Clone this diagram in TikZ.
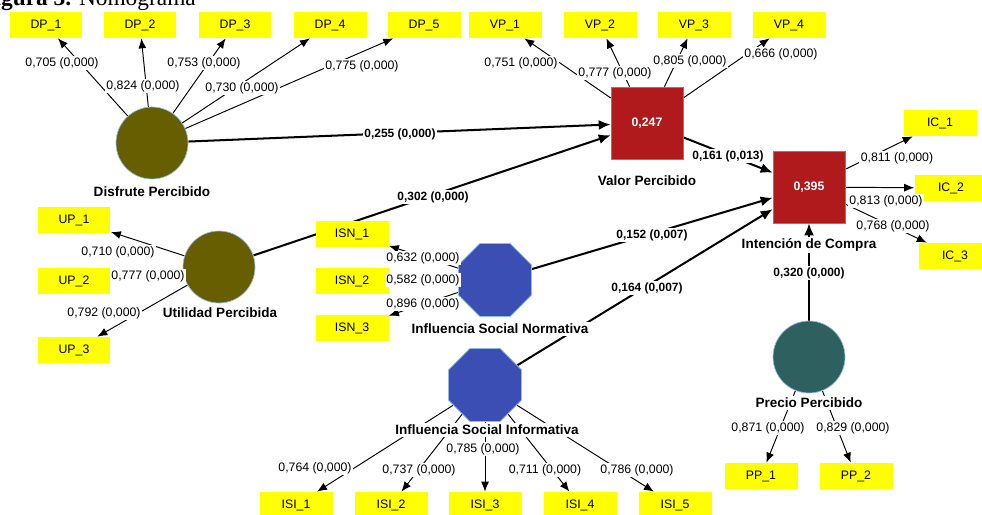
\documentclass[tikz,border=0pt]{standalone}
\usepackage{fontspec}
\setmainfont{Liberation Serif}
\setsansfont{Liberation Sans}
\usetikzlibrary{arrows.meta,shapes.geometric}
\definecolor{indyellow}{RGB}{255,255,0}
\definecolor{olive}{RGB}{102,94,0}
\definecolor{teal}{RGB}{47,96,96}
\definecolor{endored}{RGB}{176,26,28}
\definecolor{endoline}{RGB}{120,120,200}
\definecolor{octblue}{RGB}{58,78,180}
\definecolor{lvline}{RGB}{140,190,225}
\pgfdeclarelayer{edges}
\pgfsetlayers{edges,main}

\begin{document}
\begin{tikzpicture}[x=0.02cm,y=-0.02cm]
			\tikzstyle{every node}+=[font=\sffamily]
			\tikzstyle{ind}=[fill=indyellow, minimum width=1.46cm, minimum height=0.52cm, inner sep=0pt, font=\sffamily\fontsize{7}{8}\selectfont]
			\tikzstyle{lv}=[circle, draw=lvline, line width=0.4pt, minimum size=1.44cm, inner sep=0pt]
			\tikzstyle{endo}=[rectangle, fill=endored, draw=endoline, line width=0.4pt, minimum size=1.44cm, text=white, font=\sffamily\bfseries\fontsize{7}{8}\selectfont]
			\tikzstyle{oct}=[regular polygon, regular polygon sides=8, fill=octblue, draw=lvline, line width=0.4pt, minimum size=1.58cm, inner sep=0pt]
			\tikzstyle{lname}=[fill=white, inner sep=1pt, font=\sffamily\bfseries\fontsize{7.7}{9}\selectfont]
			\tikzstyle{lbl}=[fill=white, inner sep=1pt, font=\sffamily\fontsize{7}{8}\selectfont]
			\tikzstyle{blbl}=[fill=white, inner sep=1pt, font=\sffamily\bfseries\fontsize{6.8}{8}\selectfont]
			\tikzstyle{load}=[black, line width=0.55pt, -{Latex[length=0.2cm,width=0.16cm]}]
			\tikzstyle{coef}=[black, line width=1.15pt, -{Latex[length=0.24cm,width=0.2cm]}]
			\useasboundingbox (0,0) rectangle (982,514);
			\node [anchor=base west, inner sep=0pt, font=\fontsize{13.3}{15}\selectfont] (caption) at (-20,5) {\textbf{Figura 3.} Nomograma};
			\node [lv, fill=olive] (dp) at (152,143) {};
			\node [lv, fill=olive] (up) at (219,267) {};
			\node [lv, fill=teal] (pp) at (809,357) {};
			\node [endo] (vp) at (647,123) {0,247};
			\node [endo] (ic) at (809,187) {0,395};
			\node [oct] (isn) at (495,280) {};
			\node [oct] (isi) at (485,385) {};
			\node [ind] (dp1) at (46,25) {DP\_1};
			\node [ind] (dp2) at (140,25) {DP\_2};
			\node [ind] (dp3) at (235,25) {DP\_3};
			\node [ind] (dp4) at (330,25) {DP\_4};
			\node [ind] (dp5) at (424,25) {DP\_5};
			\node [ind] (vp1) at (505,25) {VP\_1};
			\node [ind] (vp2) at (600,25) {VP\_2};
			\node [ind] (vp3) at (694,25) {VP\_3};
			\node [ind] (vp4) at (789,25) {VP\_4};
			\node [ind] (ic1) at (940,123) {IC\_1};
			\node [ind] (ic2) at (951,188) {IC\_2};
			\node [ind] (ic3) at (955,256) {IC\_3};
			\node [ind] (up1) at (74,220) {UP\_1};
			\node [ind] (up2) at (74,281) {UP\_2};
			\node [ind] (up3) at (74,350) {UP\_3};
			\node [ind] (isn1) at (352,234) {ISN\_1};
			\node [ind] (isn2) at (352,281) {ISN\_2};
			\node [ind] (isn3) at (352,328) {ISN\_3};
			\node [ind] (isi1) at (296,505) {ISI\_1};
			\node [ind] (isi2) at (391,505) {ISI\_2};
			\node [ind] (isi3) at (485,505) {ISI\_3};
			\node [ind] (isi4) at (580,505) {ISI\_4};
			\node [ind] (isi5) at (675,505) {ISI\_5};
			\node [ind] (pp1) at (761,476) {PP\_1};
			\node [ind] (pp2) at (856,476) {PP\_2};
			\begin{pgfonlayer}{edges}
			\draw [load] (dp) -- (dp1);
			\draw [load] (dp) -- (dp2);
			\draw [load] (dp) -- (dp3);
			\draw [load] (dp) -- (dp4);
			\draw [load] (dp) -- (dp5);
			\draw [load] (vp) -- (vp1);
			\draw [load] (vp) -- (vp2);
			\draw [load] (vp) -- (vp3);
			\draw [load] (vp) -- (vp4);
			\draw [load] (ic) -- (ic1);
			\draw [load] (ic) -- (ic2);
			\draw [load] (ic) -- (ic3);
			\draw [load] (up) -- (up1);
			\draw [load] (up) -- (up2);
			\draw [load] (up) -- (up3);
			\draw [load] (isn) -- (isn1);
			\draw [load] (isn) -- (isn2);
			\draw [load] (isn) -- (isn3);
			\draw [load] (isi) -- (isi1);
			\draw [load] (isi) -- (isi2);
			\draw [load] (isi) -- (isi3);
			\draw [load] (isi) -- (isi4);
			\draw [load] (isi) -- (isi5);
			\draw [load] (pp) -- (pp1);
			\draw [load] (pp) -- (pp2);
			\draw [coef] (dp) -- (vp);
			\draw [coef] (up) -- (vp);
			\draw [coef] (vp) -- (ic);
			\draw [coef] (isn) -- (ic);
			\draw [coef] (isi) -- (ic);
			\draw [coef] (pp) -- (ic);
			\end{pgfonlayer}
			\node [lname] (dp-name) at (152,192) {Disfrute Percibido};
			\node [lname] (vp-name) at (647,181) {Valor Percibido};
			\node [lname] (ic-name) at (809,245) {Intención de Compra};
			\node [lname] (up-name) at (220,313) {Utilidad Percibida};
			\node [lname] (isn-name) at (500,329) {Influencia Social Normativa};
			\node [lname] (isi-name) at (487,430) {Influencia Social Informativa};
			\node [lname] (pp-name) at (809,403) {Precio Percibido};
			\node [lbl] (l-dp1) at (62,63) {0,705 (0,000)};
			\node [lbl] (l-dp2) at (143,86) {0,824 (0,000)};
			\node [lbl] (l-dp3) at (204,63) {0,753 (0,000)};
			\node [lbl] (l-dp4) at (242,88) {0,730 (0,000)};
			\node [lbl] (l-dp5) at (362,66) {0,775 (0,000)};
			\node [lbl] (l-vp1) at (521,63) {0,751 (0,000)};
			\node [lbl] (l-vp2) at (615,73) {0,777 (0,000)};
			\node [lbl] (l-vp3) at (690,61) {0,805 (0,000)};
			\node [lbl] (l-vp4) at (781,54) {0,666 (0,000)};
			\node [lbl] (l-ic1) at (897,158) {0,811 (0,000)};
			\node [lbl] (l-ic2) at (886,201) {0,813 (0,000)};
			\node [lbl] (l-ic3) at (893,226) {0,768 (0,000)};
			\node [lbl] (l-up1) at (118,252) {0,710 (0,000)};
			\node [lbl] (l-up2) at (148,276) {0,777 (0,000)};
			\node [lbl] (l-up3) at (104,313) {0,792 (0,000)};
			\node [lbl] (l-isn1) at (423,258) {0,632 (0,000)};
			\node [lbl] (l-isn2) at (423,280) {0,582 (0,000)};
			\node [lbl] (l-isn3) at (423,304) {0,896 (0,000)};
			\node [lbl] (l-isi1) at (315,468) {0,764 (0,000)};
			\node [lbl] (l-isi2) at (419,470) {0,737 (0,000)};
			\node [lbl] (l-isi3) at (483,449) {0,785 (0,000)};
			\node [lbl] (l-isi4) at (545,470) {0,711 (0,000)};
			\node [lbl] (l-isi5) at (637,470) {0,786 (0,000)};
			\node [lbl] (l-pp1) at (768,428) {0,871 (0,000)};
			\node [lbl] (l-pp2) at (853,428) {0,829 (0,000)};
			\node [blbl] (l-dpvp) at (400,134) {0,255 (0,000)};
			\node [blbl] (l-upvp) at (433,197) {0,302 (0,000)};
			\node [blbl] (l-vpic) at (728,156) {0,161 (0,013)};
			\node [blbl] (l-isnic) at (652,235) {0,152 (0,007)};
			\node [blbl] (l-isiic) at (647,288) {0,164 (0,007)};
			\node [blbl] (l-ppic) at (809,273) {0,320 (0,000)};
		\end{tikzpicture}
\end{document}
